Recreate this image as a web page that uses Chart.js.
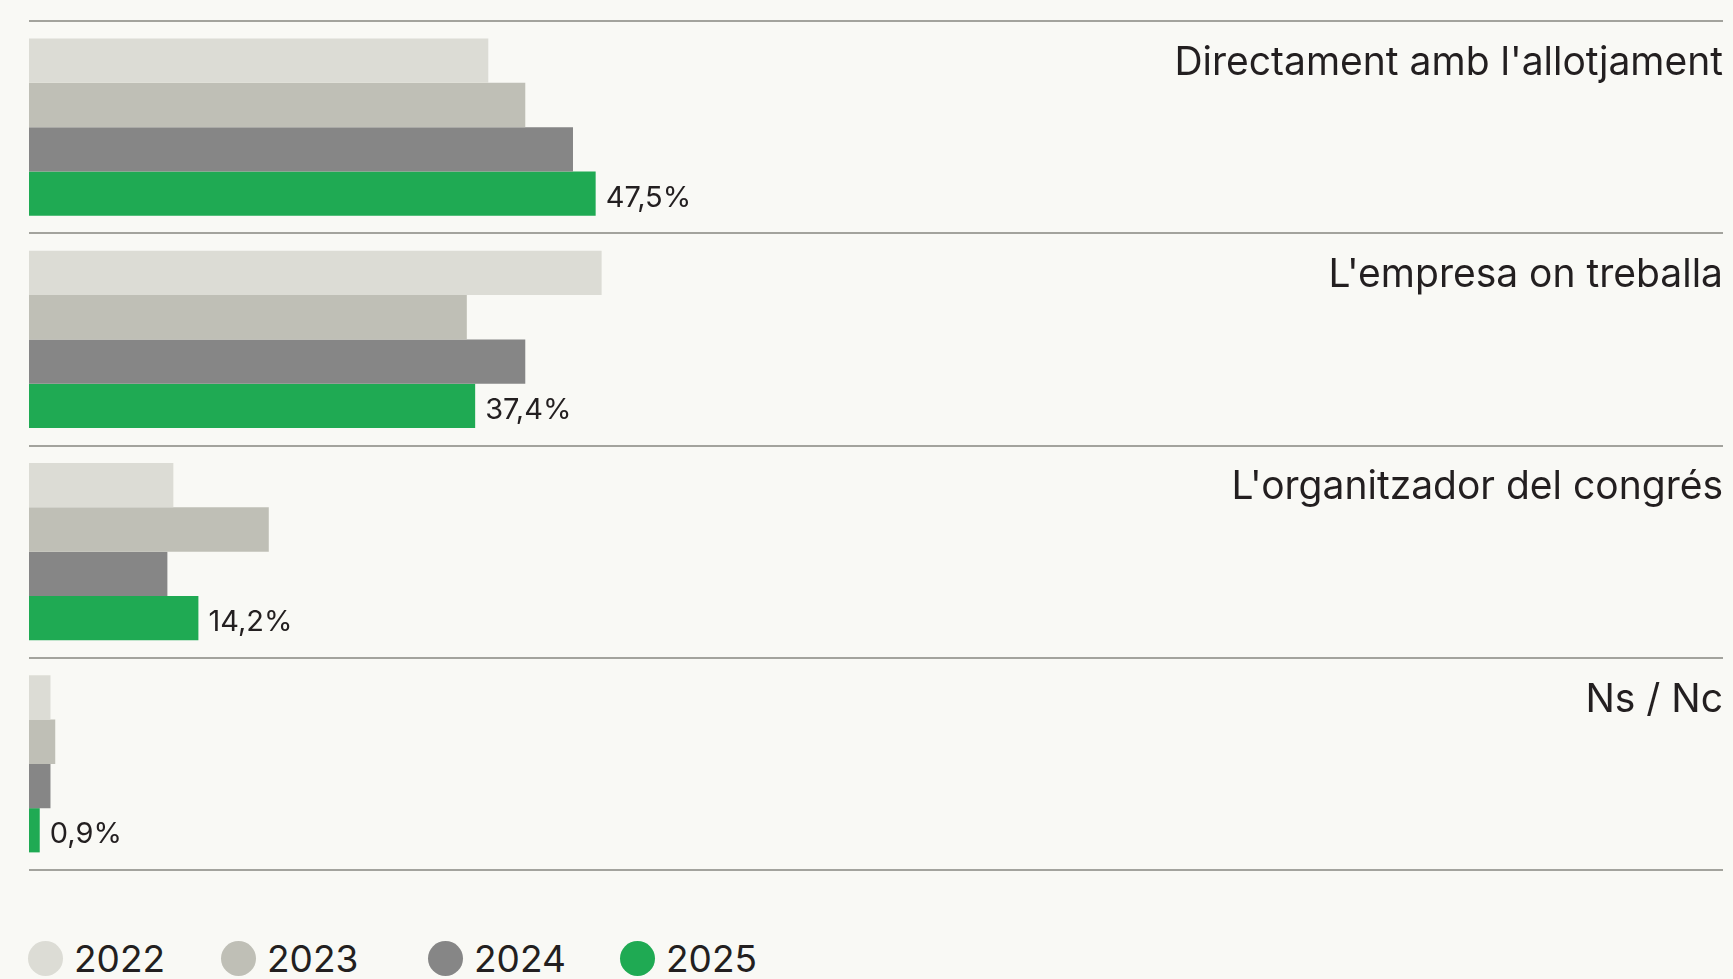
<!DOCTYPE html>
<html>
<head>
<meta charset="utf-8">
<script src="https://cdn.jsdelivr.net/npm/chart.js@4.4.1/dist/chart.umd.min.js"></script>
<style>
    html, body {
        margin: 0;
        padding: 0;
        background: #f9f9f5;
        overflow: hidden;
    }
    .page {
        position: relative;
        width: 1733px;
        height: 979px;
    }
    .chart-wrap {
        position: absolute;
        left: 0;
        top: 0;
        width: 1733px;
        height: 880px;
    }
    .legend {
        position: absolute;
        left: 0;
        top: 940px;
        width: 1733px;
        height: 36px;
    }
    .legend-item {
        position: absolute;
        top: 0;
        display: flex;
        align-items: center;
        height: 36px;
        font-family: Inter, sans-serif;
        font-size: 37px;
        color: #231f20;
    }
    .legend-item:nth-child(1) { left: 28px; }
    .legend-item:nth-child(2) { left: 221px; }
    .legend-item:nth-child(3) { left: 428px; }
    .legend-item:nth-child(4) { left: 620px; }
    .legend-dot {
        width: 35px;
        height: 35px;
        border-radius: 50%;
        margin-right: 11px;
    }
</style>
</head>
<body>
<div class="page">
    <div class="chart-wrap"><canvas id="mainChart"></canvas></div>
    <div class="legend" id="legend"></div>
</div>
<script>
// Data
const categories = [
    "Directament amb l'allotjament",
    "L'empresa on treballa",
    "L'organitzador del congrés",
    "Ns / Nc"
];
const years = ['2022', '2023', '2024', '2025'];
const values2022 = [38.5, 48.0, 12.1, 1.8];
const values2023 = [41.6, 36.7, 20.1, 2.2];
const values2024 = [45.6, 41.6, 11.6, 1.8];
const values2025 = [47.5, 37.4, 14.2, 0.9];
const yearColors = ['#dcdcd5', '#bfbfb6', '#868686', '#1faa53'];

const seriesValues = [values2022, values2023, values2024, values2025];

// Percentage label on the latest year's bars
const valueLabels = {
    id: 'valueLabels',
    afterDatasetsDraw(chart) {
        const ctx = chart.ctx;
        const last = chart.data.datasets.length - 1;
        const meta = chart.getDatasetMeta(last);
        ctx.save();
        ctx.font = '29px Inter';
        ctx.fillStyle = '#231f20';
        ctx.textAlign = 'left';
        ctx.textBaseline = 'alphabetic';
        meta.data.forEach((bar, i) => {
            const v = chart.data.datasets[last].data[i];
            ctx.fillText(v.toFixed(1).replace('.', ',') + '%', bar.x + 10, bar.y + 13);
        });
        ctx.restore();
    }
};

function createChart() {
    const ctx = document.getElementById('mainChart').getContext('2d');
    new Chart(ctx, {
        type: 'bar',
        data: {
            labels: categories,
            datasets: years.map((y, i) => ({
                label: y,
                data: seriesValues[i],
                backgroundColor: yearColors[i],
                borderWidth: 0,
                barPercentage: 1,
                categoryPercentage: 0.834
            }))
        },
        options: {
            indexAxis: 'y',
            responsive: true,
            maintainAspectRatio: false,
            animation: false,
            layout: {
                padding: { left: 29, right: 10, top: 21, bottom: 10 }
            },
            plugins: {
                legend: { display: false },
                tooltip: { enabled: false }
            },
            scales: {
                x: {
                    display: false,
                    min: 0,
                    max: 142
                },
                y: {
                    position: 'right',
                    grid: {
                        color: '#a3a39d',
                        lineWidth: 2,
                        drawTicks: false,
                        offset: true
                    },
                    border: { display: false },
                    ticks: {
                        mirror: true,
                        padding: 0,
                        labelOffset: -64,
                        color: '#231f20',
                        font: { family: 'Inter', size: 39 }
                    },
                    // labels sit inside the bands, so no extra room above/below
                    afterFit(axis) {
                        axis.paddingTop = 0;
                        axis.paddingBottom = 0;
                    }
                }
            }
        },
        plugins: [valueLabels]
    });
}

function buildLegend() {
    const legend = document.getElementById('legend');
    legend.innerHTML = years.map((y, i) => `
        <div class="legend-item">
            <span class="legend-dot" style="background:${yearColors[i]}"></span>
            <span>${y}</span>
        </div>
    `).join('');
}

buildLegend();
createChart();
</script>
</body>
</html>
